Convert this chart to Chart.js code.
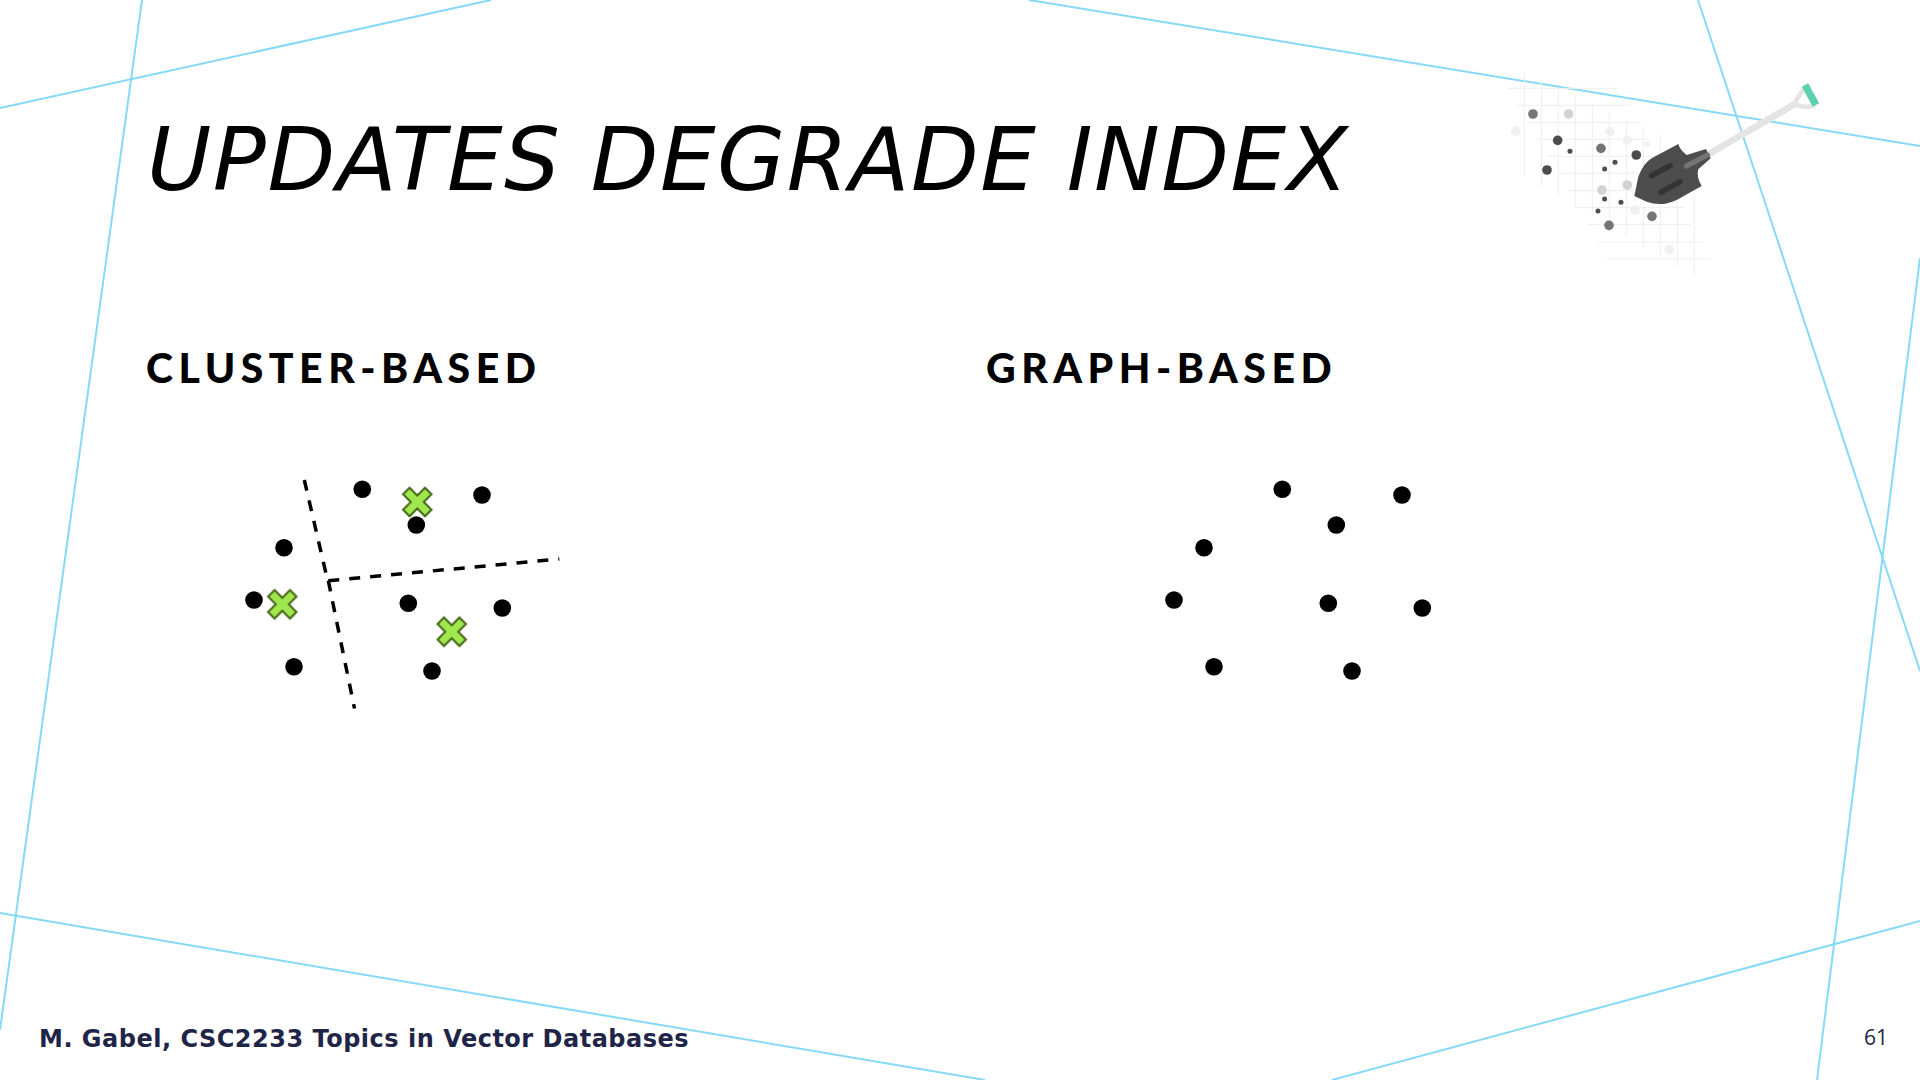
<!DOCTYPE html>
<html>
<head>
<meta charset="utf-8">
<title>Updates degrade index</title>
<script src="https://cdn.jsdelivr.net/npm/chart.js@4"></script>
<style>
  html, body { margin: 0; width: 1920px; height: 1080px; overflow: hidden; background: #fff; }
  .txt { position: absolute; white-space: nowrap; line-height: 1; }
  #title { left: 147px; top: 108px; font: italic 88px "DejaVu Sans"; letter-spacing: 1.45px; color: #000; }
  .head { top: 343px; font: 900 41px Lato; letter-spacing: 5.5px; color: #000; }
  #footer { left: 39px; top: 1025px; font: bold 24px "DejaVu Sans"; letter-spacing: 0.5px; color: #1f2547; }
  #page { left: 1864px; top: 1023px; font: 21px "Open Sans"; color: #1f2547; }
  svg { position: absolute; left: 0; top: 0; }
  .panel { position: absolute; top: 460px; }
</style>
</head>
<body>
<!-- slide decoration: frame lines and the shovel picture -->
<svg width="1920" height="1080">
  <g stroke="#86d9f7" stroke-width="2">
    <line x1="142" y1="0" x2="0" y2="1030"/>
    <line x1="0" y1="108" x2="491" y2="0"/>
    <line x1="1029" y1="0" x2="1920" y2="146"/>
    <line x1="1698" y1="0" x2="1920" y2="671"/>
    <line x1="1920" y1="258" x2="1817" y2="1080"/>
    <line x1="0" y1="913" x2="985" y2="1080"/>
    <line x1="1332" y1="1080" x2="1920" y2="921"/>
  </g>
  <g transform="translate(1480 60) scale(0.3333)">
    <g stroke="#eeeeee" stroke-width="3">
      <path d="M133 35V350M184 60V380M235 85V410M286 105V440M337 130V470M388 155V500M439 178V530M490 200V560M541 222V590M592 250V620M643 270V650"/>
      <path d="M82 85H422M112 136H450M142 187H476M170 238H505M200 289H535M232 340H565M262 392H595M290 443H612M320 494H632M350 546H668M378 597H695"/>
    </g>
    <g fill="#f0f0f0">
      <circle cx="107" cy="214" r="14.5"/><circle cx="390" cy="214" r="14.5"/><circle cx="442" cy="241" r="14.5"/>
      <circle cx="465" cy="450" r="14.5"/><circle cx="568" cy="568" r="14.5"/><circle cx="502" cy="253" r="8"/>
    </g>
    <g fill="#d3d3d3">
      <circle cx="266" cy="162" r="14.5"/><circle cx="366" cy="390" r="14.5"/><circle cx="442" cy="375" r="14.5"/>
    </g>
    <g fill="#757575">
      <circle cx="159" cy="162" r="14.5"/><circle cx="363" cy="265" r="14.5"/><circle cx="516" cy="469" r="14.5"/><circle cx="387" cy="496" r="14.5"/>
    </g>
    <g fill="#4d4d4d">
      <circle cx="233" cy="241" r="14.5"/><circle cx="201" cy="330" r="14.5"/><circle cx="469" cy="285" r="14.5"/>
      <circle cx="270" cy="274" r="7.5"/><circle cx="405" cy="307" r="7.5"/><circle cx="374" cy="327" r="7.5"/>
      <circle cx="374" cy="417" r="7.5"/><circle cx="423" cy="427" r="7.5"/><circle cx="354" cy="453" r="7.5"/>
    </g>
    <line x1="685" y1="283" x2="945" y2="132" stroke="#e4e4e4" stroke-width="20"/>
    <path d="M945 130Q955 105 978 82M945 132Q975 148 1005 135" fill="none" stroke="#e4e4e4" stroke-width="14"/>
    <line x1="975" y1="75" x2="1008" y2="135" stroke="#5bcfae" stroke-width="22"/>
    <path d="M463 408L475 350Q490 310 515 295L595 252Q600 270 620 285L678 267L692 295L655 328Q648 350 665 378L590 420Q545 442 500 425Z" fill="#4d4d4d"/>
    <g stroke-linecap="round" stroke-width="16">
      <line x1="515" y1="347" x2="571" y2="316" stroke="#333333"/>
      <line x1="543" y1="397" x2="600" y2="365" stroke="#333333"/>
      <line x1="620" y1="318" x2="682" y2="285" stroke="#757575"/>
    </g>
  </g>
</svg>

<div id="title" class="txt">UPDATES DEGRADE INDEX</div>
<div class="txt head" style="left:146px">CLUSTER-BASED</div>
<div class="txt head" style="left:986px">GRAPH-BASED</div>
<div id="footer" class="txt">M. Gabel, CSC2233 Topics in Vector Databases</div>
<div id="page" class="txt">61</div>

<div class="panel" style="left:220px"><canvas id="clusterChart" width="360" height="260"></canvas></div>
<div class="panel" style="left:1140px"><canvas id="graphChart" width="360" height="260"></canvas></div>

<script>
// same points in both panels
const pointX = [142.3, 262, 196.3, 64, 34, 188.3, 282.3, 74, 212];
const pointY = [29.3, 35, 65, 87.7, 140, 143.3, 148, 206.7, 211];

// cluster centers
const centerX = [197.3, 62.3, 231.7];
const centerY = [42, 144.3, 171.7];

// dashed borders between the clusters
const borderUpperX = [84.3, 106];
const borderUpperY = [20, 113.5];
const borderRightX = [108.3, 339.3];
const borderRightY = [120.7, 99];
const borderLowerX = [108.3, 134.5];
const borderLowerY = [120.7, 248.5];

const toXY = (xs, ys) => xs.map((x, i) => ({ x, y: ys[i] }));

// fat green x used as point style for the centers
const makeCross = () => {
  const c = document.createElement('canvas');
  c.width = 36;
  c.height = 36;
  const g = c.getContext('2d');
  const t = 4.6;
  const l = 15.5;
  g.translate(18, 18);
  g.rotate(Math.PI / 4);
  g.beginPath();
  g.moveTo(-t, -l);
  g.lineTo(t, -l);
  g.lineTo(t, -t);
  g.lineTo(l, -t);
  g.lineTo(l, t);
  g.lineTo(t, t);
  g.lineTo(t, l);
  g.lineTo(-t, l);
  g.lineTo(-t, t);
  g.lineTo(-l, t);
  g.lineTo(-l, -t);
  g.lineTo(-t, -t);
  g.closePath();
  g.fillStyle = '#a1e84e';
  g.fill();
  g.lineWidth = 2;
  g.strokeStyle = '#466619';
  g.stroke();
  return c;
};

const dashed = (xs, ys) => ({
  type: 'line',
  data: toXY(xs, ys),
  borderColor: '#000',
  borderWidth: 3.5,
  borderDash: [11, 10],
  pointRadius: 0,
  fill: false,
  clip: false,
});

const dots = {
  type: 'scatter',
  data: toXY(pointX, pointY),
  backgroundColor: '#000',
  borderWidth: 0,
  pointRadius: 8.8,
};

const panel = (id, datasets) => new Chart(document.getElementById(id), {
  data: { datasets },
  options: {
    responsive: false,
    animation: false,
    layout: { padding: 0, autoPadding: false },
    plugins: { legend: { display: false }, title: { display: false }, tooltip: { enabled: false } },
    scales: {
      x: { type: 'linear', min: 0, max: 360, display: false },
      y: { type: 'linear', min: 0, max: 260, reverse: true, display: false },
    },
  },
});

panel('clusterChart', [
  {
    type: 'scatter',
    data: toXY(centerX, centerY),
    pointStyle: makeCross(),
    pointRadius: 18,
  },
  dots,
  dashed(borderUpperX, borderUpperY),
  dashed(borderRightX, borderRightY),
  dashed(borderLowerX, borderLowerY),
]);

panel('graphChart', [{ ...dots, data: toXY(pointX, pointY) }]);
</script>
</body>
</html>
